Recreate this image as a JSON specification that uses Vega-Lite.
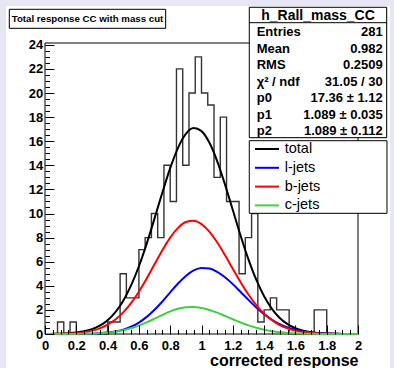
{
"$schema":"https://vega.github.io/schema/vega-lite/v6.json",
"width":313,"height":291,
"autosize":{"type":"none"},
"padding":{"left":45,"top":43,"right":36,"bottom":34},
"background":"#e6e6f4",
"config":{"view":{"stroke":null},"font":"Liberation Sans","text":{"color":"#000"}},
"datasets":{
"hist":[{"x":0,"n":0},{"x":0.04,"n":0},{"x":0.08,"n":1},{"x":0.12,"n":0},{"x":0.16,"n":1},{"x":0.2,"n":0},{"x":0.24,"n":0},{"x":0.28,"n":0},{"x":0.32,"n":0},{"x":0.36,"n":0},{"x":0.4,"n":1},{"x":0.44,"n":1},{"x":0.48,"n":5},{"x":0.52,"n":3},{"x":0.56,"n":3},{"x":0.6,"n":7},{"x":0.64,"n":8},{"x":0.68,"n":10},{"x":0.72,"n":8},{"x":0.76,"n":14},{"x":0.8,"n":11},{"x":0.84,"n":22},{"x":0.88,"n":14},{"x":0.92,"n":20},{"x":0.96,"n":23},{"x":1,"n":20},{"x":1.04,"n":19},{"x":1.08,"n":13},{"x":1.12,"n":18},{"x":1.16,"n":11},{"x":1.2,"n":11},{"x":1.24,"n":5},{"x":1.28,"n":8},{"x":1.32,"n":10},{"x":1.36,"n":1},{"x":1.4,"n":2},{"x":1.44,"n":3},{"x":1.48,"n":2},{"x":1.52,"n":2},{"x":1.56,"n":0},{"x":1.6,"n":0},{"x":1.64,"n":0},{"x":1.68,"n":0},{"x":1.72,"n":2},{"x":1.76,"n":2},{"x":1.8,"n":0},{"x":1.84,"n":0},{"x":1.88,"n":0},{"x":1.92,"n":0},{"x":1.96,"n":0},{"x":2,"n":0}],
"curves":[
{"s":"total","x":0,"y":0.006},{"s":"total","x":0.05,"y":0.013},{"s":"total","x":0.1,"y":0.029},{"s":"total","x":0.15,"y":0.059},{"s":"total","x":0.2,"y":0.117},{"s":"total","x":0.25,"y":0.22},{"s":"total","x":0.3,"y":0.399},{"s":"total","x":0.35,"y":0.69},{"s":"total","x":0.4,"y":1.146},{"s":"total","x":0.45,"y":1.82},{"s":"total","x":0.5,"y":2.768},{"s":"total","x":0.55,"y":4.031},{"s":"total","x":0.6,"y":5.621},{"s":"total","x":0.65,"y":7.505},{"s":"total","x":0.7,"y":9.595},{"s":"total","x":0.75,"y":11.748},{"s":"total","x":0.8,"y":13.769},{"s":"total","x":0.85,"y":15.453},{"s":"total","x":0.9,"y":16.608},{"s":"total","x":0.95,"y":17.09},{"s":"total","x":1,"y":16.84},{"s":"total","x":1.05,"y":15.89},{"s":"total","x":1.1,"y":14.355},{"s":"total","x":1.15,"y":12.417},{"s":"total","x":1.2,"y":10.286},{"s":"total","x":1.25,"y":8.158},{"s":"total","x":1.3,"y":6.196},{"s":"total","x":1.35,"y":4.504},{"s":"total","x":1.4,"y":3.136},{"s":"total","x":1.45,"y":2.091},{"s":"total","x":1.5,"y":1.335},{"s":"total","x":1.55,"y":0.816},{"s":"total","x":1.6,"y":0.478},{"s":"total","x":1.65,"y":0.268},{"s":"total","x":1.7,"y":0.144},{"s":"total","x":1.75,"y":0.074},{"s":"total","x":1.8,"y":0.036},{"s":"total","x":1.85,"y":0.017},{"s":"total","x":1.9,"y":0.008},{"s":"total","x":1.95,"y":0.003},{"s":"total","x":2,"y":0.001},
{"s":"l-jets","x":0,"y":0},{"s":"l-jets","x":0.05,"y":0},{"s":"l-jets","x":0.1,"y":0.001},{"s":"l-jets","x":0.15,"y":0.003},{"s":"l-jets","x":0.2,"y":0.006},{"s":"l-jets","x":0.25,"y":0.014},{"s":"l-jets","x":0.3,"y":0.029},{"s":"l-jets","x":0.35,"y":0.059},{"s":"l-jets","x":0.4,"y":0.115},{"s":"l-jets","x":0.45,"y":0.21},{"s":"l-jets","x":0.5,"y":0.366},{"s":"l-jets","x":0.55,"y":0.605},{"s":"l-jets","x":0.6,"y":0.951},{"s":"l-jets","x":0.65,"y":1.42},{"s":"l-jets","x":0.7,"y":2.01},{"s":"l-jets","x":0.75,"y":2.7},{"s":"l-jets","x":0.8,"y":3.45},{"s":"l-jets","x":0.85,"y":4.19},{"s":"l-jets","x":0.9,"y":4.82},{"s":"l-jets","x":0.95,"y":5.28},{"s":"l-jets","x":1,"y":5.48},{"s":"l-jets","x":1.05,"y":5.43},{"s":"l-jets","x":1.1,"y":5.16},{"s":"l-jets","x":1.15,"y":4.71},{"s":"l-jets","x":1.2,"y":4.14},{"s":"l-jets","x":1.25,"y":3.49},{"s":"l-jets","x":1.3,"y":2.83},{"s":"l-jets","x":1.35,"y":2.2},{"s":"l-jets","x":1.4,"y":1.65},{"s":"l-jets","x":1.45,"y":1.18},{"s":"l-jets","x":1.5,"y":0.817},{"s":"l-jets","x":1.55,"y":0.542},{"s":"l-jets","x":1.6,"y":0.345},{"s":"l-jets","x":1.65,"y":0.212},{"s":"l-jets","x":1.7,"y":0.124},{"s":"l-jets","x":1.75,"y":0.07},{"s":"l-jets","x":1.8,"y":0.038},{"s":"l-jets","x":1.85,"y":0.02},{"s":"l-jets","x":1.9,"y":0.01},{"s":"l-jets","x":1.95,"y":0.005},{"s":"l-jets","x":2,"y":0.002},
{"s":"b-jets","x":0,"y":0.005},{"s":"b-jets","x":0.05,"y":0.01},{"s":"b-jets","x":0.1,"y":0.022},{"s":"b-jets","x":0.15,"y":0.044},{"s":"b-jets","x":0.2,"y":0.084},{"s":"b-jets","x":0.25,"y":0.156},{"s":"b-jets","x":0.3,"y":0.278},{"s":"b-jets","x":0.35,"y":0.472},{"s":"b-jets","x":0.4,"y":0.77},{"s":"b-jets","x":0.45,"y":1.2},{"s":"b-jets","x":0.5,"y":1.79},{"s":"b-jets","x":0.55,"y":2.56},{"s":"b-jets","x":0.6,"y":3.51},{"s":"b-jets","x":0.65,"y":4.6},{"s":"b-jets","x":0.7,"y":5.78},{"s":"b-jets","x":0.75,"y":6.95},{"s":"b-jets","x":0.8,"y":8},{"s":"b-jets","x":0.85,"y":8.81},{"s":"b-jets","x":0.9,"y":9.3},{"s":"b-jets","x":0.95,"y":9.4},{"s":"b-jets","x":1,"y":9.12},{"s":"b-jets","x":1.05,"y":8.5},{"s":"b-jets","x":1.1,"y":7.61},{"s":"b-jets","x":1.15,"y":6.55},{"s":"b-jets","x":1.2,"y":5.41},{"s":"b-jets","x":1.25,"y":4.3},{"s":"b-jets","x":1.3,"y":3.28},{"s":"b-jets","x":1.35,"y":2.4},{"s":"b-jets","x":1.4,"y":1.69},{"s":"b-jets","x":1.45,"y":1.15},{"s":"b-jets","x":1.5,"y":0.745},{"s":"b-jets","x":1.55,"y":0.466},{"s":"b-jets","x":1.6,"y":0.279},{"s":"b-jets","x":1.65,"y":0.161},{"s":"b-jets","x":1.7,"y":0.089},{"s":"b-jets","x":1.75,"y":0.048},{"s":"b-jets","x":1.8,"y":0.024},{"s":"b-jets","x":1.85,"y":0.012},{"s":"b-jets","x":1.9,"y":0.006},{"s":"b-jets","x":1.95,"y":0.003},{"s":"b-jets","x":2,"y":0.001},
{"s":"c-jets","x":0,"y":0},{"s":"c-jets","x":0.05,"y":0.001},{"s":"c-jets","x":0.1,"y":0.001},{"s":"c-jets","x":0.15,"y":0.003},{"s":"c-jets","x":0.2,"y":0.007},{"s":"c-jets","x":0.25,"y":0.015},{"s":"c-jets","x":0.3,"y":0.031},{"s":"c-jets","x":0.35,"y":0.059},{"s":"c-jets","x":0.4,"y":0.108},{"s":"c-jets","x":0.45,"y":0.186},{"s":"c-jets","x":0.5,"y":0.305},{"s":"c-jets","x":0.55,"y":0.472},{"s":"c-jets","x":0.6,"y":0.693},{"s":"c-jets","x":0.65,"y":0.964},{"s":"c-jets","x":0.7,"y":1.27},{"s":"c-jets","x":0.75,"y":1.585},{"s":"c-jets","x":0.8,"y":1.874},{"s":"c-jets","x":0.85,"y":2.1},{"s":"c-jets","x":0.9,"y":2.228},{"s":"c-jets","x":0.95,"y":2.243},{"s":"c-jets","x":1,"y":2.16},{"s":"c-jets","x":1.05,"y":1.996},{"s":"c-jets","x":1.1,"y":1.769},{"s":"c-jets","x":1.15,"y":1.503},{"s":"c-jets","x":1.2,"y":1.226},{"s":"c-jets","x":1.25,"y":0.958},{"s":"c-jets","x":1.3,"y":0.719},{"s":"c-jets","x":1.35,"y":0.517},{"s":"c-jets","x":1.4,"y":0.357},{"s":"c-jets","x":1.45,"y":0.236},{"s":"c-jets","x":1.5,"y":0.15},{"s":"c-jets","x":1.55,"y":0.091},{"s":"c-jets","x":1.6,"y":0.053},{"s":"c-jets","x":1.65,"y":0.03},{"s":"c-jets","x":1.7,"y":0.016},{"s":"c-jets","x":1.75,"y":0.008},{"s":"c-jets","x":1.8,"y":0.004},{"s":"c-jets","x":1.85,"y":0.002},{"s":"c-jets","x":1.9,"y":0.001},{"s":"c-jets","x":1.95,"y":0},{"s":"c-jets","x":2,"y":0}
]},
"resolve":{"axis":{"x":"independent","y":"independent"}},
"layer":[
{"data":{"values":[{}]},"mark":{"type":"rect","fill":"#ffffff"},
 "encoding":{"x":{"datum":-0.2492,"type":"quantitative","scale":{"domain":[0,2],"nice":false,"zero":false},"axis":null},"x2":{"datum":2.2045},
 "y":{"datum":27.221,"type":"quantitative","scale":{"domain":[0,24.15],"nice":false,"zero":false},"axis":null},"y2":{"datum":-2.988}}},
{"data":{"values":[{}]},"mark":{"type":"rect","fillOpacity":0,"stroke":"#000","strokeWidth":1},
 "encoding":{"x":{"datum":0,"type":"quantitative","scale":{"domain":[0,2],"nice":false,"zero":false},"axis":null},"x2":{"datum":2},
 "y":{"datum":0,"type":"quantitative","scale":{"domain":[0,24.15],"nice":false,"zero":false},"axis":null},"y2":{"datum":24.15}}},
{"data":{"name":"hist"},"mark":{"type":"line","interpolate":"step-after","stroke":"#333","strokeWidth":1.4},
 "encoding":{
  "x":{"field":"x","type":"quantitative","scale":{"domain":[0,2],"nice":false,"zero":false},
   "axis":{"orient":"bottom","values":[0,0.2,0.4,0.6,0.8,1,1.2,1.4,1.6,1.8,2],"format":"~g","tickSize":-9,"tickWidth":1,"tickColor":"#000","labelColor":"#000","labelFontSize":13,"labelFontWeight":"bold","labelPadding":14.5,"labelFlush":false,"labelOverlap":false,"domain":false,"grid":false,"title":"corrected response","titleFontSize":16,"titleFontWeight":"bold","titleColor":"#000","titleAnchor":"end","titleAlign":"right","titleBaseline":"alphabetic","titleY":31,"zindex":1}},
  "y":{"field":"n","type":"quantitative","scale":{"domain":[0,24.15],"nice":false,"zero":false},
   "axis":{"orient":"left","values":[0,2,4,6,8,10,12,14,16,18,20,22,24],"format":"d","tickSize":-9,"tickWidth":1,"tickColor":"#000","labelColor":"#000","labelFontSize":13,"labelFontWeight":"bold","labelPadding":11.3,"labelFlush":false,"labelOverlap":false,"domain":false,"grid":false,"title":null,"zindex":1}}}},
{"data":{"name":"curves"},"mark":{"type":"line","strokeWidth":2,"interpolate":"monotone"},
 "encoding":{
  "x":{"field":"x","type":"quantitative","scale":{"domain":[0,2],"nice":false,"zero":false},
   "axis":{"orient":"bottom","values":[0,0.05,0.1,0.15,0.2,0.25,0.3,0.35,0.4,0.45,0.5,0.55,0.6,0.65,0.7,0.75,0.8,0.85,0.9,0.95,1,1.05,1.1,1.15,1.2,1.25,1.3,1.35,1.4,1.45,1.5,1.55,1.6,1.65,1.7,1.75,1.8,1.85,1.9,1.95,2],"tickSize":-4.5,"tickWidth":1,"tickColor":"#000","labels":false,"domain":false,"grid":false,"title":null,"zindex":1}},
  "y":{"field":"y","type":"quantitative","scale":{"domain":[0,24.15],"nice":false,"zero":false},
   "axis":{"orient":"left","values":[0,0.5,1,1.5,2,2.5,3,3.5,4,4.5,5,5.5,6,6.5,7,7.5,8,8.5,9,9.5,10,10.5,11,11.5,12,12.5,13,13.5,14,14.5,15,15.5,16,16.5,17,17.5,18,18.5,19,19.5,20,20.5,21,21.5,22,22.5,23,23.5,24],"tickSize":-4.5,"tickWidth":1,"tickColor":"#000","labels":false,"domain":false,"grid":false,"title":null,"zindex":1}},
  "color":{"field":"s","type":"nominal","scale":{"domain":["total","l-jets","b-jets","c-jets"],"range":["#000000","#0000ff","#ff0000","#3fcf3f"]},
   "legend":{"orient":"none","legendX":204.3,"legendY":98.75,"title":null,"padding":0,"symbolType":"M-2,0H2","symbolSize":144,"symbolStrokeWidth":2,"symbolOffset":10.45,"labelOffset":10.5,"labelFont":"Liberation Sans","labelFontSize":14.5,"labelFontWeight":"normal","labelColor":"#000","rowPadding":3.8,"fillColor":null,"strokeColor":null,"labelLimit":200}}}},
{"data":{"values":[{}]},"mark":{"type":"rect","fill":"#000","xOffset":2,"yOffset":2},
 "encoding":{"x":{"datum":-0.2281,"type":"quantitative","axis":null},"x2":{"datum":0.7712},"y":{"datum":26.947,"type":"quantitative","axis":null},"y2":{"datum":25.37}}},
{"data":{"values":[{}]},"mark":{"type":"rect","fill":"#fff","stroke":"#000","strokeWidth":1},
 "encoding":{"x":{"datum":-0.2281,"type":"quantitative","axis":null},"x2":{"datum":0.7712},"y":{"datum":26.947,"type":"quantitative","axis":null},"y2":{"datum":25.37}}},
{"data":{"values":[{}]},"mark":{"type":"text","text":"Total response CC with mass cut","align":"center","baseline":"alphabetic","fontSize":9.7,"fontWeight":"bold"},
 "encoding":{"x":{"datum":0.2716,"type":"quantitative","axis":null},"y":{"datum":25.868,"type":"quantitative","axis":null}}},
{"data":{"values":[{}]},"mark":{"type":"rect","fill":"#000","xOffset":2,"yOffset":2},
 "encoding":{"x":{"datum":1.3054,"type":"quantitative","axis":null},"x2":{"datum":2.1834},"y":{"datum":27.113,"type":"quantitative","axis":null},"y2":{"datum":16.291}}},
{"data":{"values":[{}]},"mark":{"type":"rect","fill":"#fff","stroke":"#000","strokeWidth":1},
 "encoding":{"x":{"datum":1.3054,"type":"quantitative","axis":null},"x2":{"datum":2.1834},"y":{"datum":27.113,"type":"quantitative","axis":null},"y2":{"datum":16.291}}},
{"data":{"values":[{}]},"mark":{"type":"rule","stroke":"#000","strokeWidth":1},
 "encoding":{"x":{"datum":1.3054,"type":"quantitative","axis":null},"x2":{"datum":2.1834},"y":{"datum":25.835,"type":"quantitative","axis":null}}},
{"data":{"values":[{}]},"mark":{"type":"text","text":"h_Rall_mass_CC","align":"center","baseline":"alphabetic","fontSize":14,"fontWeight":"bold"},
 "encoding":{"x":{"datum":1.7444,"type":"quantitative","axis":null},"y":{"datum":26.034,"type":"quantitative","axis":null}}},
{"data":{"values":[{}]},"mark":{"type":"text","text":["Entries","Mean","RMS","χ² / ndf","p0","p1","p2"],"align":"left","baseline":"alphabetic","fontSize":13,"fontWeight":"bold","lineHeight":16.53},
 "encoding":{"x":{"datum":1.3527,"type":"quantitative","axis":null},"y":{"datum":24.731,"type":"quantitative","axis":null}}},
{"data":{"values":[{}]},"mark":{"type":"text","text":["281","0.982","0.2509","31.05 / 30","17.36 ± 1.12","1.089 ± 0.035","1.089 ± 0.112"],"align":"right","baseline":"alphabetic","fontSize":13,"fontWeight":"bold","lineHeight":16.53},
 "encoding":{"x":{"datum":2.1578,"type":"quantitative","axis":null},"y":{"datum":24.731,"type":"quantitative","axis":null}}},
{"data":{"values":[{}]},"mark":{"type":"rect","fill":"#000","xOffset":2,"yOffset":2},
 "encoding":{"x":{"datum":1.3054,"type":"quantitative","axis":null},"x2":{"datum":2.1853},"y":{"datum":16.042,"type":"quantitative","axis":null},"y2":{"datum":10.017}}},
{"data":{"values":[{}]},"mark":{"type":"rect","fill":"#fff","stroke":"#000","strokeWidth":1},
 "encoding":{"x":{"datum":1.3054,"type":"quantitative","axis":null},"x2":{"datum":2.1853},"y":{"datum":16.042,"type":"quantitative","axis":null},"y2":{"datum":10.017}}}
]
}
